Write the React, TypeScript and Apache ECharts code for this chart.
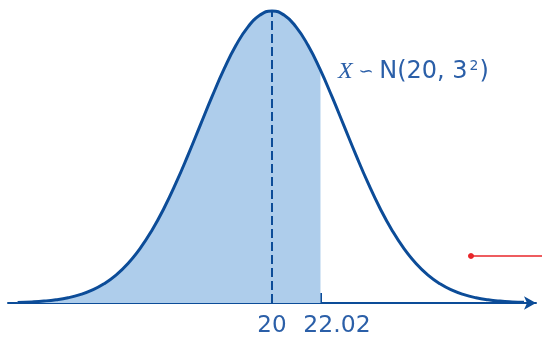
import React, { useEffect, useRef } from "react";
import * as echarts from "echarts";

const curveX = [9.4, 10, 10.5, 11, 11.5, 12, 12.5, 13, 13.5, 14, 14.5, 15, 15.5, 16, 16.5, 17, 17.5, 18, 18.5, 19, 19.5, 20,
  20.5, 21, 21.5, 22, 22.5, 23, 23.5, 24, 24.5, 25, 25.5, 26, 26.5, 27, 27.5, 28, 28.5, 29, 29.5, 30, 30.5];
const curveY = [0.00026, 0.00051, 0.00088, 0.00148, 0.0024, 0.0038, 0.00584, 0.00874, 0.01272, 0.018, 0.02477, 0.03316,
  0.04317, 0.05467, 0.06733, 0.08066, 0.09397, 0.10648, 0.11736, 0.12579, 0.13115, 0.13298,
  0.13115, 0.12579, 0.11736, 0.10648, 0.09397, 0.08066, 0.06733, 0.05467, 0.04317, 0.03316, 0.02477, 0.018,
  0.01272, 0.00874, 0.00584, 0.0038, 0.0024, 0.00148, 0.00088, 0.00051, 0.00029];
const cutX = 22.02;
const cutY = 0.10601;
const meanX = 20;
const peakY = 0.13298;
const tickLabels = ["20", "22.02"];
const tickValues = [20, 22.02];

const DARK = "#0c4c98";
const TEXT = "#2b5fa8";
const FILL = "#aecdeb";
const FONT = "DejaVu Sans";

export default function App() {
  const ref = useRef<HTMLDivElement>(null);
  useEffect(() => {
    const chart = echarts.init(ref.current!, null, { renderer: "svg" });
    const curve = curveX.map((x, i) => [x, curveY[i]]);
    const shaded = curve.filter((p) => p[0] <= cutX);
    shaded.push([cutX, cutY]);
    chart.setOption({
      animation: false,
      grid: { left: 8, right: 6, top: 6.6, bottom: 37 },
      xAxis: {
        type: "value",
        min: 9,
        max: 31,
        splitLine: { show: false },
        axisLine: {
          show: true,
          lineStyle: { color: DARK, width: 2 },
          symbol: ["none", "arrow"],
          symbolSize: [10, 12],
        },
        axisTick: {
          show: true,
          inside: true,
          length: 10,
          customValues: tickValues,
          lineStyle: { color: DARK, width: 2 },
        },
        axisLabel: {
          customValues: tickValues,
          margin: 9,
          hideOverlap: false,
          formatter: (v: number) => (v === tickValues[0] ? "{a|" + tickLabels[0] + "}" : "{b|" + tickLabels[1] + "}"),
          rich: {
            a: { fontSize: 23, color: TEXT, fontFamily: FONT },
            b: { fontSize: 23.5, color: TEXT, fontFamily: FONT, padding: [0, 0, 0, 33] },
          },
        },
      },
      yAxis: { type: "value", min: 0, max: 0.135, show: false },
      series: [
        {
          type: "line",
          data: shaded,
          smooth: true,
          showSymbol: false,
          lineStyle: { width: 0 },
          areaStyle: { color: FILL, opacity: 1 },
          z: 1,
        },
        {
          type: "line",
          data: curve,
          smooth: true,
          showSymbol: false,
          lineStyle: { width: 3, color: DARK },
          z: 3,
          markLine: {
            silent: true,
            symbol: "none",
            label: { show: false },
            lineStyle: { color: DARK, width: 2, type: [9, 4] },
            data: [[{ coord: [meanX, 0] }, { coord: [meanX, peakY] }]],
          },
        },
      ],
      graphic: [
        {
          type: "text",
          left: 338,
          top: 58,
          style: {
            text: "{i|X}{t| ∽ }{n|N(20, 3}{s|2}{n|)}",
            rich: {
              i: { fontFamily: "Liberation Serif", fontStyle: "italic", fontSize: 24, fill: TEXT },
              t: { fontFamily: FONT, fontSize: 18, fill: TEXT },
              n: { fontFamily: FONT, fontSize: 24, fill: TEXT },
              s: { fontFamily: FONT, fontSize: 14, fill: TEXT, verticalAlign: "top", padding: [0, 1, 0, 2] },
            },
          },
        },
        {
          type: "line",
          shape: { x1: 471, y1: 256, x2: 542, y2: 256 },
          style: { stroke: "#e8262a", lineWidth: 1.5 },
        },
        {
          type: "circle",
          shape: { cx: 471, cy: 256, r: 3 },
          style: { fill: "#e8262a" },
        },
      ],
    });
    return () => chart.dispose();
  }, []);
  return <div ref={ref} style={{ position: "fixed", left: 0, top: 0, width: 542, height: 340 }} />;
}
